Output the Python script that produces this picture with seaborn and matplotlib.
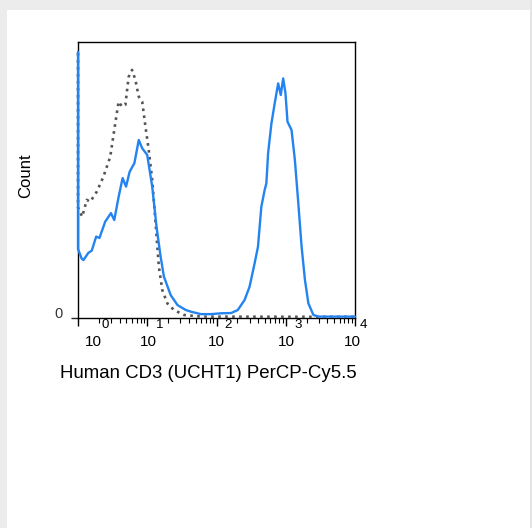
import matplotlib
matplotlib.use('Agg')
import matplotlib.pyplot as plt
import matplotlib.ticker as mticker
import matplotlib.transforms as mtrans
from matplotlib.patches import Rectangle
import pandas as pd
import seaborn as sns

# Stained sample (blue) - fluorescence intensity vs relative count
stained_x = [1.0, 1.0, 1.13, 1.2, 1.41, 1.58, 1.83, 2.04, 2.47, 2.99, 3.34, 3.86, 4.41, 4.94,
             5.57, 6.52, 7.54, 8.45, 9.98, 11.8, 13.6, 15.6, 17.4, 21.8, 27.3, 36.0,
             42.6, 59.5, 83.2, 116, 163, 203, 254, 300, 355, 397, 444, 496, 525, 556,
             621, 693, 777, 847, 918, 991, 1060, 1213, 1355, 1518, 1694, 1893, 2122,
             2508, 2965, 10000]
stained_y = [96.4, 25.0, 21.5, 21.0, 23.6, 24.4, 29.5, 29.0, 34.9, 38.0, 35.5, 43.9, 50.7, 47.6,
             53.0, 56.1, 64.5, 61.5, 59.1, 47.6, 33.1, 22.2, 15.0, 8.3, 4.7, 2.9,
             2.3, 1.4, 1.4, 1.7, 1.8, 2.9, 6.5, 11.3, 19.8, 25.8, 40.3, 46.4, 48.8, 59.7,
             70.5, 77.8, 85.0, 80.8, 86.8, 81.4, 71.1, 68.1, 57.2, 41.6, 25.8, 13.8, 5.3,
             1.1, 0.5, 0.5]

# Isotype control (grey dotted)
control_x = [1.0, 1.0, 1.15, 1.34, 1.50, 1.87, 2.33, 2.92, 3.45, 3.86, 4.32, 4.83, 5.39, 6.04,
             6.75, 7.54, 8.45, 9.43, 10.5, 11.8, 13.2, 14.7, 16.5, 19.5, 24.3, 34.0,
             59.5, 10000]
control_y = [96.0, 40.0, 36.7, 42.8, 42.1, 45.8, 51.2, 58.4, 70.5, 78.4, 76.6, 77.2, 87.4, 89.9,
             86.2, 80.2, 78.4, 69.3, 60.9, 50.0, 34.3, 18.6, 10.1, 5.3, 2.9, 1.1,
             0.5, 0.4]

decades = [1, 10, 100, 1000, 10000]
exponents = ['0', '1', '2', '3', '4']

sns.set_style('white')
plt.rcParams['font.family'] = ['Liberation Sans', 'DejaVu Sans']

fig = plt.figure(figsize=(5.32, 5.28), dpi=100)
fig.patch.set_facecolor('white')

# Grey page frame
fig.patches.append(Rectangle((0, 1 - 10 / 528), 1, 10 / 528, transform=fig.transFigure,
                             facecolor='#ececec', edgecolor='none', zorder=0))
fig.patches.append(Rectangle((0, 0), 7 / 532, 1, transform=fig.transFigure,
                             facecolor='#ececec', edgecolor='none', zorder=0))
fig.patches.append(Rectangle((530 / 532, 0), 2 / 532, 1, transform=fig.transFigure,
                             facecolor='#e4e4e4', edgecolor='none', zorder=0))

ax = fig.add_axes([78 / 532, 1 - 318 / 528, 277 / 532, 276 / 528])

df_ctrl = pd.DataFrame({'x': control_x, 'y': control_y})
df_stain = pd.DataFrame({'x': stained_x, 'y': stained_y})

sns.lineplot(data=df_ctrl, x='x', y='y', ax=ax, color='#555555', linestyle=':',
             linewidth=1.9, estimator=None, sort=False, zorder=3, clip_on=False)
sns.lineplot(data=df_stain, x='x', y='y', ax=ax, color='#2383f0', linewidth=1.7,
             estimator=None, sort=False, zorder=4, clip_on=False)

ax.set_xscale('log')
ax.set_xlim(1, 10000)
ax.set_ylim(0, 100)

ax.xaxis.set_major_locator(mticker.FixedLocator(decades))
ax.xaxis.set_major_formatter(mticker.FixedFormatter(['10'] * len(decades)))
ax.xaxis.set_minor_locator(mticker.LogLocator(base=10, subs=range(2, 10), numticks=20))
ax.xaxis.set_minor_formatter(mticker.NullFormatter())
ax.tick_params(axis='x', which='major', direction='out', length=6, width=1,
               colors='black', labelsize=11, pad=6, bottom=True)
ax.tick_params(axis='x', which='minor', direction='out', length=3.5, width=0.8,
               colors='black', bottom=True)
ax.set_yticks([0])
ax.set_yticklabels(['0'])
ax.tick_params(axis='y', direction='out', length=5, width=1, labelsize=10.5,
               labelcolor='#333333', pad=5, left=True)

# nudge tick labels like the reference (first one sits clear of the corner)
shifts = [15, 1, 0, 1, -3]
for lab, dx in zip(ax.get_xticklabels(), shifts):
    lab.set_transform(lab.get_transform() + mtrans.Affine2D().translate(dx, 0))
for lab in ax.get_yticklabels():
    lab.set_transform(lab.get_transform() + mtrans.Affine2D().translate(-1, 5))

# raised exponents of the decade labels
for xv, ex, dx in zip(decades, exponents, shifts):
    off = mtrans.ScaledTranslation((dx + 8) / 100, -1 / 100, fig.dpi_scale_trans)
    ax.text(xv, 0, ex, transform=ax.get_xaxis_transform() + off, ha='left', va='top',
            fontsize=9.5, color='black', clip_on=False)

for spine in ax.spines.values():
    spine.set_visible(True)
    spine.set_color('black')
    spine.set_linewidth(1)

ax.set_xlabel('')
ax.set_ylabel('')

fig.text(60 / 532, 1 - 374 / 528, 'Human CD3 (UCHT1) PerCP-Cy5.5', ha='left',
         va='center', fontsize=13.4, color='black')
fig.text(26 / 532, 1 - 176 / 528, 'Count', ha='center', va='center', rotation=90,
         fontsize=12, color='black')

fig.savefig('out.png', dpi=100)
